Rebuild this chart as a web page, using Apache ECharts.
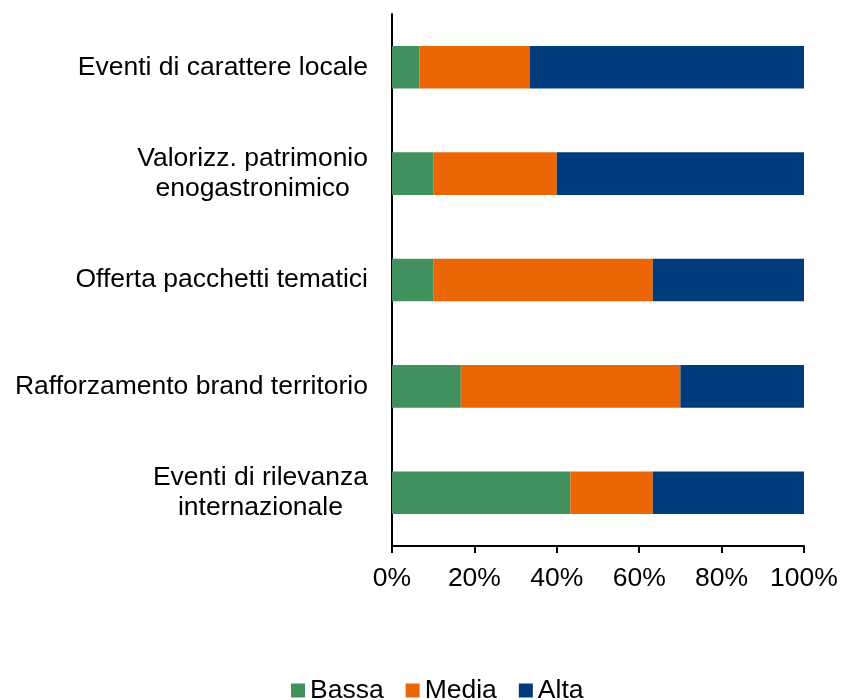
<!DOCTYPE html>
<html>
<head>
<meta charset="utf-8">
<script src="https://cdn.jsdelivr.net/npm/echarts@6/dist/echarts.min.js"></script>
<style>
  html, body { margin: 0; padding: 0; background: #fff; }
  #chart { width: 841px; height: 700px; }
</style>
</head>
<body>
<div id="chart"></div>
<script>
// categorie, dall'alto verso il basso
const categories = [
    'Eventi di carattere locale',
    'Valorizz. patrimonio\nenogastronimico',
    'Offerta pacchetti tematici',
    'Rafforzamento brand territorio',
    'Eventi di rilevanza\ninternazionale'
];
// quote percentuali per livello
const bassa = [6.7, 10.0, 10.0, 16.7, 43.3];
const media = [26.7, 30.0, 53.3, 53.3, 20.0];
const alta = [66.7, 60.0, 36.7, 30.0, 36.7];
const xTicks = [0, 20, 40, 60, 80, 100];

const font = 'Liberation Sans, Arial, sans-serif';
const fs = 26.5;

// serie impilata
function makeSeries(name, data, color) {
    return {
        name: name,
        type: 'bar',
        stack: 'tot',
        barWidth: '40%',
        data: data,
        itemStyle: { color: color }
    };
}

let myChart = echarts.init(document.getElementById('chart'));
myChart.setOption({
    animation: false,
    textStyle: { fontFamily: font },
    grid: { left: 392, right: 37, top: 14, bottom: 154 },
    legend: {
        bottom: -9,
        left: 286,
        itemWidth: 14,
        itemHeight: 14,
        itemGap: 22,
        icon: 'rect',
        textStyle: { fontSize: fs, color: '#000', fontFamily: font },
        data: ['Bassa', 'Media', 'Alta']
    },
    xAxis: {
        type: 'value',
        min: xTicks[0],
        max: xTicks[xTicks.length - 1],
        interval: 20,
        splitLine: { show: false },
        axisLine: { show: true, lineStyle: { color: '#000', width: 2 } },
        axisTick: { show: true, length: 7, lineStyle: { color: '#000', width: 2 } },
        axisLabel: {
            fontSize: fs,
            color: '#000',
            margin: 19,
            formatter: function(v) { return v + '%'; }
        }
    },
    yAxis: {
        type: 'category',
        inverse: true,
        data: categories,
        axisLine: { show: true, lineStyle: { color: '#000', width: 2 } },
        axisTick: { show: false },
        axisLabel: {
            fontSize: fs,
            color: '#000',
            margin: 24,
            lineHeight: 30,
            formatter: function(v) {
                return v.split('\n').map(function(s) { return '{c|' + s + '}'; }).join('\n');
            },
            rich: {
                c: { align: 'center', fontSize: fs, color: '#000', lineHeight: 30, fontFamily: font }
            }
        }
    },
    series: [
        makeSeries('Bassa', bassa, '#41905d'),
        makeSeries('Media', media, '#ec6605'),
        makeSeries('Alta', alta, '#003b7b')
    ]
});
</script>
</body>
</html>
